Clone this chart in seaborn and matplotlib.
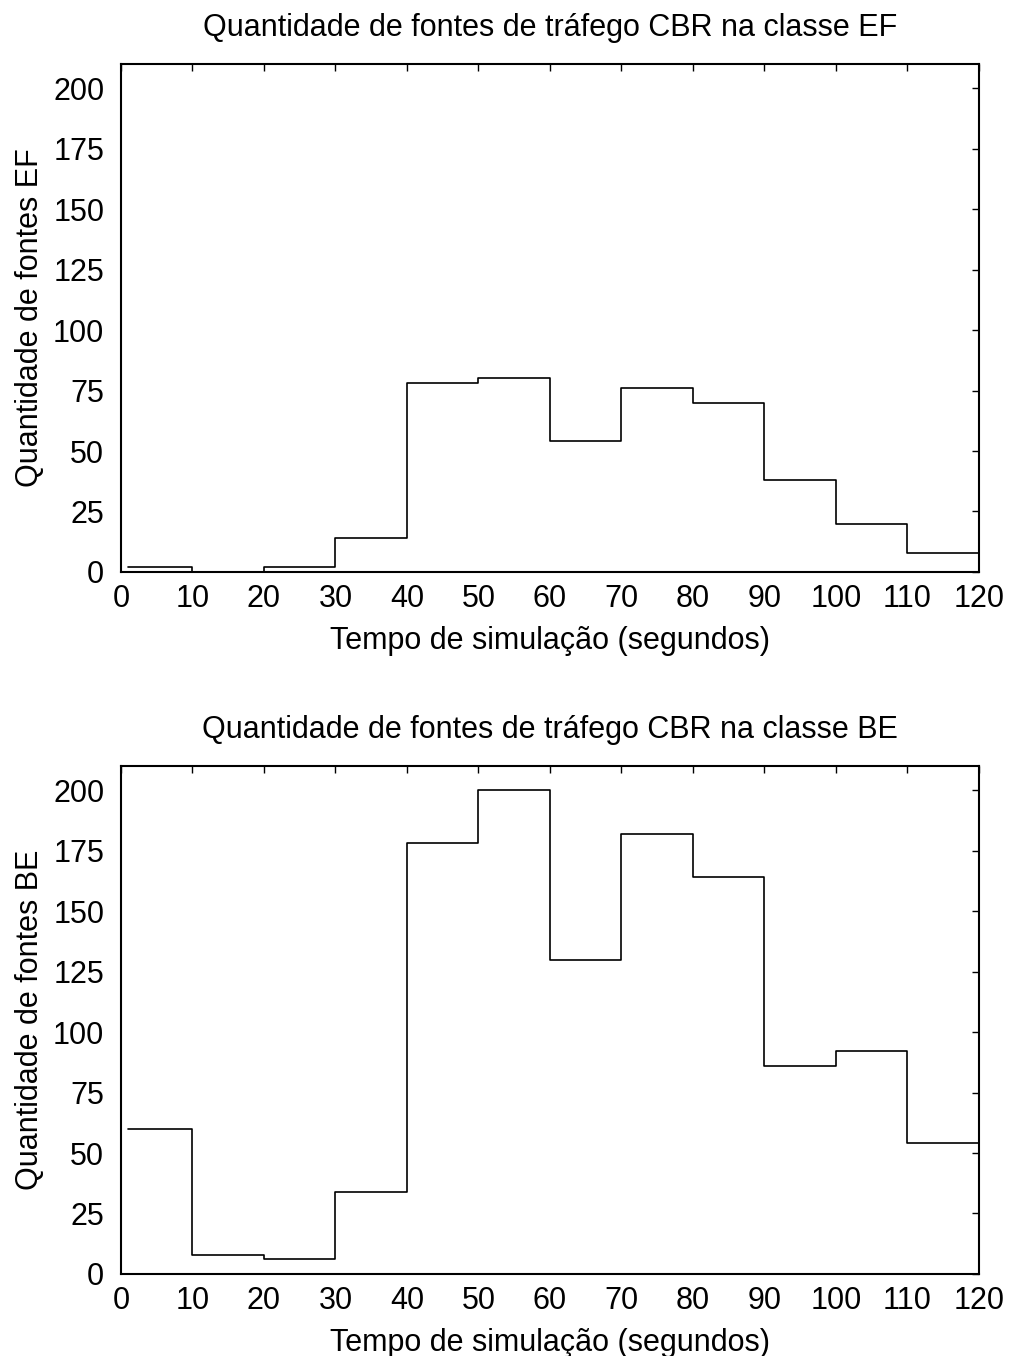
import numpy as np
import pandas as pd
import matplotlib
matplotlib.use("Agg")
import matplotlib.pyplot as plt
import seaborn as sns

# Bin edges (seconds) and number of CBR sources per class in each bin
bin_edges = [1, 10, 20, 30, 40, 50, 60, 70, 80, 90, 100, 110, 120]
ef_counts = [2, 0, 2, 14, 78, 80, 54, 76, 70, 38, 20, 8]
be_counts = [60, 8, 6, 34, 178, 200, 130, 182, 164, 86, 92, 54]

x_ticks = list(range(0, 121, 10))
y_ticks = list(range(0, 201, 25))

titles = ["Quantidade de fontes de tráfego CBR na classe EF",
          "Quantidade de fontes de tráfego CBR na classe BE"]
ylabels = ["Quantidade de fontes EF", "Quantidade de fontes BE"]
xlabel = "Tempo de simulação (segundos)"

sns.set_style("white")
plt.rcParams["font.family"] = ["Liberation Sans", "DejaVu Sans"]
plt.rcParams["text.color"] = "black"
plt.rcParams["axes.labelcolor"] = "black"
FS = 22

fig = plt.figure(figsize=(10.13, 13.56), dpi=100)
ax_top = fig.add_axes([0.1194, 0.5782, 0.847, 0.3746])
ax_bot = fig.add_axes([0.1194, 0.0605, 0.847, 0.3746])

for ax, counts, title, ylab in zip([ax_top, ax_bot], [ef_counts, be_counts], titles, ylabels):
    centers = [(a + b) / 2 for a, b in zip(bin_edges[:-1], bin_edges[1:])]
    df = pd.DataFrame({"t": centers, "n": counts})
    sns.histplot(data=df, x="t", weights="n", bins=bin_edges, element="step",
                 fill=False, color="black", linewidth=1.2, ax=ax)
    ax.set_xlim(0, 120)
    ax.set_ylim(0, 210)
    ax.set_xticks(x_ticks)
    ax.set_yticks(y_ticks)
    ax.tick_params(direction="in", length=5, width=1, top=True, right=True,
                   labelsize=FS, colors="black")
    ax.tick_params(axis="x", pad=9)
    ax.tick_params(axis="y", pad=12)
    for s in ax.spines.values():
        s.set_visible(True)
        s.set_color("black")
        s.set_linewidth(1.5)
    ax.set_title(title, fontsize=FS, pad=20, color="black")
    ax.set_xlabel(xlabel, fontsize=FS, labelpad=8, color="black")
    ax.set_ylabel(ylab, fontsize=FS, labelpad=6, color="black")

fig.savefig("out.png", dpi=100, facecolor="white")
